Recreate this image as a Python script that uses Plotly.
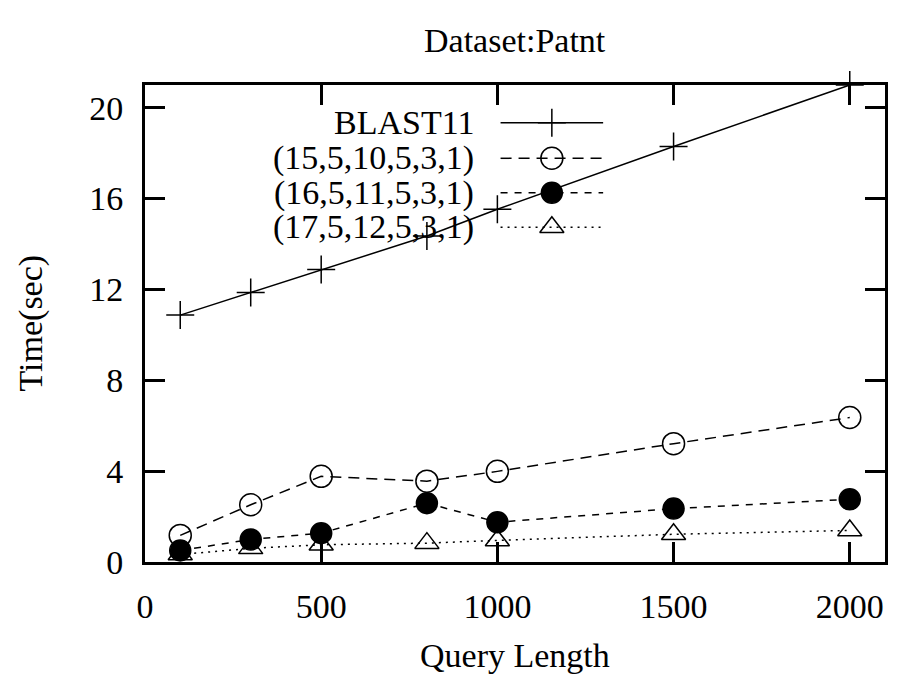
import plotly.graph_objects as go

# Query lengths and measured run times (seconds)
query_length = [100, 300, 500, 800, 1000, 1500, 2000]
blast11 = [10.87, 11.87, 12.88, 14.35, 15.53, 18.29, 21.0]
cfg_15 = [1.17, 2.52, 3.77, 3.56, 3.99, 5.21, 6.36]
cfg_16 = [0.51, 0.99, 1.27, 2.59, 1.75, 2.35, 2.76]
cfg_17 = [0.33, 0.60, 0.76, 0.83, 0.95, 1.22, 1.39]

series_names = ["BLAST11", "(15,5,10,5,3,1)", "(16,5,11,5,3,1)", "(17,5,12,5,3,1)"]
x_ticks = [0, 500, 1000, 1500, 2000]
y_ticks = [0, 4, 8, 12, 16, 20]

FONT = "Liberation Serif, Times New Roman, serif"
FS = 34
W, H = 897, 675
ML, MR, MT, MB = 145, 9, 85, 113
PW, PH = W - ML - MR, H - MT - MB

styles = [
    dict(dash="solid", symbol="cross-thin-open", size=20),
    dict(dash="11px,7px", symbol="circle-open", size=22),
    dict(dash="7px,7px", symbol="circle", size=21),
    dict(dash="2px,5px", symbol="triangle-up-open", size=21),
]
values = [blast11, cfg_15, cfg_16, cfg_17]

fig = go.Figure()
for name, ys, st in zip(series_names, values, styles):
    fig.add_trace(go.Scatter(
        x=query_length, y=ys, name=name, mode="lines+markers",
        line=dict(color="black", width=1.5, dash=st["dash"]),
        marker=dict(symbol=st["symbol"], size=st["size"], color="black",
                    line=dict(color="black", width=1.5)),
        cliponaxis=False, showlegend=False,
    ))

# Key: right-aligned labels followed by a line sample with its marker
key_text_right = 477
key_line = (502, 605)
key_rows = [122.7, 158.3, 192.7, 227.3]

def px_to_frac_x(px):
    return (px - ML) / PW

def px_to_frac_y(py):
    return (MT + PH - py) / PH

annotations = []
for name, st, ry in zip(series_names, styles, key_rows):
    annotations.append(dict(
        text=name, xref="paper", yref="paper",
        x=px_to_frac_x(key_text_right), y=px_to_frac_y(ry),
        xanchor="right", yanchor="middle", showarrow=False,
        font=dict(family=FONT, size=FS, color="black"),
    ))
    x0, x1 = px_to_frac_x(key_line[0]), px_to_frac_x(key_line[1])
    fy = px_to_frac_y(ry)
    fig.add_trace(go.Scatter(
        x=[x0, x1], y=[fy, fy], xaxis="x2", yaxis="y2", mode="lines",
        line=dict(color="black", width=1.5, dash=st["dash"]),
        cliponaxis=False, showlegend=False, hoverinfo="skip",
    ))
    fig.add_trace(go.Scatter(
        x=[(x0 + x1) / 2], y=[fy], xaxis="x2", yaxis="y2", mode="markers",
        marker=dict(symbol=st["symbol"], size=st["size"], color="black",
                    line=dict(color="black", width=1.5)),
        cliponaxis=False, showlegend=False, hoverinfo="skip",
    ))

annotations += [
    dict(text="Dataset:Patnt", xref="paper", yref="paper", x=0.5, y=1,
         yshift=MT - 40, xanchor="center", yanchor="middle", showarrow=False,
         font=dict(family=FONT, size=FS, color="black")),
    dict(text="Query Length", xref="paper", yref="paper", x=0.5, y=0,
         yshift=-(655 - (MT + PH)), xanchor="center", yanchor="middle", showarrow=False,
         font=dict(family=FONT, size=FS, color="black")),
    dict(text="Time(sec)", xref="paper", yref="paper", x=0, y=0.5,
         xshift=-(ML - 30), xanchor="center", yanchor="middle", showarrow=False,
         textangle=-90, font=dict(family=FONT, size=FS, color="black")),
]

axis_common = dict(
    showline=True, linecolor="black", linewidth=3, mirror="ticks",
    ticks="inside", ticklen=20, tickwidth=3, tickcolor="black",
    showgrid=False, zeroline=False,
    tickfont=dict(family=FONT, size=FS, color="black"),
)

fig.update_layout(
    width=W, height=H,
    margin=dict(l=ML, r=MR, t=MT, b=MB),
    paper_bgcolor="white", plot_bgcolor="white",
    font=dict(family=FONT, size=FS, color="black"),
    xaxis=dict(range=[0, 2100], tickvals=x_ticks, ticklabelstandoff=12, **axis_common),
    yaxis=dict(range=[0, 21], tickvals=y_ticks, ticklabelstandoff=12, **axis_common),
    xaxis2=dict(range=[0, 1], overlaying="x", anchor="y2", visible=False),
    yaxis2=dict(range=[0, 1], overlaying="y", anchor="x2", visible=False),
    annotations=annotations,
    showlegend=False,
)

fig.write_html("out.html")
